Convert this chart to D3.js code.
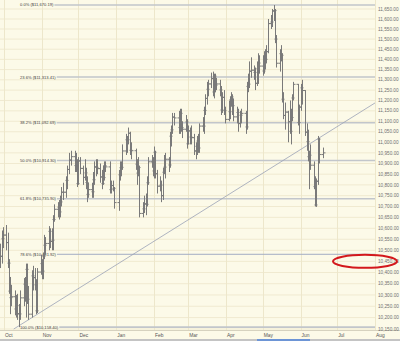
<!DOCTYPE html>
<html>
<head>
<meta charset="utf-8">
<script src="https://cdn.jsdelivr.net/npm/d3@7"></script>
<style>
  html, body { margin: 0; padding: 0; background: #fcf9e6; }
  svg { display: block; font-family: "Liberation Sans", Arial, sans-serif; }
</style>
</head>
<body>
<div id="chart"></div>
<script>
// ---- chart data ----
const monthStarts = ['2005-10-01', '2005-11-01', '2005-12-01', '2006-01-01', '2006-02-01', '2006-03-01',
  '2006-04-01', '2006-05-01', '2006-06-01', '2006-07-01', '2006-08-01'];
const monthLabels = ['Oct', 'Nov', 'Dec', 'Jan', 'Feb', 'Mar', 'Apr', 'May', 'Jun', 'Jul', 'Aug'];

const priceTicks = [10150, 10200, 10250, 10300, 10350, 10400, 10450, 10500, 10550, 10600, 10650,
  10700, 10750, 10800, 10850, 10900, 10950, 11000, 11050, 11100, 11150, 11200, 11250, 11300,
  11350, 11400, 11450, 11500, 11550, 11600, 11650];

const fibLabels = ['0.0%', '23.6%', '38.2%', '50.0%', '61.8%', '78.6%', '100.0%'];
const fibValues = [11670.19, 11313.41, 11092.69, 10914.30, 10735.90, 10481.92, 10158.40];

const trendDates = ['2005-10-09', '2006-08-01'];
const trendValues = [10150, 11188];

const markedLevel = 10450;

// daily bars per month: [day, open, high, low, close]
const sep05 = [[28, 10455, 10530, 10420, 10473], [29, 10473, 10590, 10440, 10552], [30, 10552, 10605, 10510, 10569]];
const oct05 = [
  [3, 10569, 10615, 10500, 10535], [4, 10535, 10580, 10420, 10442], [5, 10442, 10460, 10305, 10317],
  [6, 10317, 10380, 10215, 10288], [7, 10288, 10345, 10250, 10292], [10, 10292, 10320, 10210, 10238],
  [11, 10238, 10300, 10200, 10253], [12, 10253, 10305, 10190, 10217], [13, 10217, 10260, 10158, 10216],
  [14, 10216, 10320, 10190, 10287], [17, 10287, 10375, 10250, 10348], [18, 10348, 10380, 10270, 10285],
  [19, 10285, 10440, 10200, 10414], [20, 10414, 10440, 10260, 10281], [21, 10281, 10340, 10190, 10215],
  [24, 10215, 10410, 10200, 10385], [25, 10385, 10430, 10320, 10377], [26, 10377, 10420, 10320, 10345],
  [27, 10345, 10370, 10215, 10230], [28, 10230, 10420, 10220, 10402], [31, 10402, 10480, 10390, 10440]];
const nov05 = [
  [1, 10440, 10460, 10370, 10406], [2, 10406, 10490, 10370, 10473], [3, 10473, 10570, 10460, 10523],
  [4, 10523, 10560, 10480, 10531], [7, 10531, 10610, 10500, 10586], [8, 10586, 10600, 10510, 10540],
  [9, 10540, 10600, 10500, 10546], [10, 10546, 10660, 10500, 10640], [11, 10640, 10710, 10630, 10687],
  [14, 10687, 10720, 10650, 10697], [15, 10697, 10730, 10640, 10675], [16, 10675, 10750, 10650, 10721],
  [17, 10721, 10790, 10700, 10766], [18, 10766, 10810, 10730, 10766], [21, 10766, 10840, 10740, 10821],
  [22, 10821, 10890, 10780, 10872], [23, 10872, 10950, 10850, 10916], [25, 10916, 10960, 10890, 10932],
  [28, 10932, 10960, 10860, 10890], [29, 10890, 10950, 10860, 10889], [30, 10889, 10920, 10790, 10806]];
const dec05 = [
  [1, 10806, 10930, 10800, 10912], [2, 10912, 10930, 10850, 10877], [5, 10877, 10890, 10800, 10835],
  [6, 10835, 10920, 10820, 10856], [7, 10856, 10880, 10780, 10811], [8, 10811, 10840, 10720, 10756],
  [9, 10756, 10810, 10740, 10778], [12, 10778, 10810, 10740, 10768], [13, 10768, 10860, 10740, 10824],
  [14, 10824, 10910, 10800, 10884], [15, 10884, 10920, 10840, 10882], [16, 10882, 10920, 10850, 10876],
  [19, 10876, 10900, 10810, 10837], [20, 10837, 10870, 10780, 10806], [21, 10806, 10890, 10800, 10834],
  [22, 10834, 10910, 10820, 10890], [23, 10890, 10910, 10860, 10884], [27, 10884, 10910, 10760, 10778],
  [28, 10778, 10820, 10760, 10797], [29, 10797, 10820, 10770, 10784], [30, 10784, 10790, 10690, 10718]];
const jan06 = [
  [3, 10718, 10870, 10680, 10847], [4, 10847, 10910, 10820, 10880], [5, 10880, 10910, 10840, 10882],
  [6, 10882, 10990, 10870, 10959], [9, 10959, 11040, 10940, 11012], [10, 11012, 11030, 10950, 11012],
  [11, 11012, 11070, 10990, 11043], [12, 11043, 11050, 10940, 10962], [13, 10962, 11000, 10920, 10960],
  [17, 10960, 10970, 10870, 10897], [18, 10897, 10920, 10800, 10855], [19, 10855, 10930, 10840, 10881],
  [20, 10881, 10890, 10650, 10668], [23, 10668, 10720, 10650, 10689], [24, 10689, 10750, 10670, 10712],
  [25, 10712, 10760, 10660, 10710], [26, 10710, 10840, 10700, 10810], [27, 10810, 10930, 10800, 10908],
  [30, 10908, 10940, 10880, 10907], [31, 10907, 10930, 10840, 10865]];
const feb06 = [
  [1, 10865, 10980, 10830, 10953], [2, 10953, 10960, 10830, 10852], [3, 10852, 10870, 10760, 10794],
  [6, 10794, 10840, 10770, 10799], [7, 10799, 10820, 10720, 10750], [8, 10750, 10880, 10730, 10859],
  [9, 10859, 10940, 10850, 10883], [10, 10883, 10950, 10830, 10920], [13, 10920, 10930, 10860, 10893],
  [14, 10893, 11050, 10880, 11029], [15, 11029, 11080, 10980, 11059], [16, 11059, 11140, 11040, 11120],
  [17, 11120, 11140, 11080, 11116], [21, 11116, 11150, 11040, 11070], [22, 11070, 11160, 11040, 11138],
  [23, 11138, 11160, 11050, 11070], [24, 11070, 11100, 11020, 11062], [27, 11062, 11130, 11050, 11097],
  [28, 11097, 11110, 10970, 10993]];
const mar06 = [
  [1, 10993, 11080, 10990, 11054], [2, 11054, 11070, 10990, 11025], [3, 11025, 11080, 10990, 11022],
  [6, 11022, 11040, 10940, 10959], [7, 10959, 11000, 10920, 10981], [8, 10981, 11030, 10940, 11006],
  [9, 11006, 11040, 10950, 10973], [10, 10973, 11090, 10950, 11077], [13, 11077, 11120, 11050, 11077],
  [14, 11077, 11170, 11040, 11152], [15, 11152, 11230, 11130, 11210], [16, 11210, 11290, 11180, 11254],
  [17, 11254, 11300, 11220, 11280], [20, 11280, 11335, 11260, 11306], [21, 11306, 11340, 11220, 11241],
  [22, 11241, 11330, 11210, 11318], [23, 11318, 11330, 11240, 11274], [24, 11274, 11310, 11250, 11280],
  [27, 11280, 11300, 11220, 11251], [28, 11251, 11270, 11130, 11154], [29, 11154, 11240, 11140, 11215],
  [30, 11215, 11250, 11130, 11151], [31, 11151, 11170, 11090, 11109]];
const apr06 = [
  [3, 11109, 11200, 11100, 11146], [4, 11146, 11220, 11110, 11204], [5, 11204, 11240, 11170, 11217],
  [6, 11217, 11230, 11130, 11175], [7, 11175, 11210, 11100, 11121], [10, 11121, 11170, 11090, 11142],
  [11, 11142, 11160, 11050, 11089], [12, 11089, 11150, 11070, 11129], [13, 11129, 11160, 11090, 11138],
  [17, 11138, 11150, 11040, 11073], [18, 11073, 11290, 11060, 11268], [19, 11268, 11330, 11240, 11279],
  [20, 11279, 11390, 11260, 11342], [21, 11342, 11410, 11310, 11347], [24, 11347, 11370, 11300, 11336],
  [25, 11336, 11360, 11250, 11283], [26, 11283, 11390, 11270, 11354], [27, 11354, 11430, 11280, 11382],
  [28, 11382, 11420, 11330, 11367]];
const may06 = [
  [1, 11367, 11420, 11320, 11343], [2, 11343, 11440, 11330, 11416], [3, 11416, 11450, 11350, 11400],
  [4, 11400, 11470, 11380, 11438], [5, 11438, 11600, 11430, 11577], [8, 11577, 11620, 11550, 11585],
  [9, 11585, 11650, 11560, 11640], [10, 11640, 11670, 11590, 11642], [11, 11642, 11650, 11480, 11500],
  [12, 11500, 11520, 11360, 11381], [15, 11381, 11450, 11340, 11428], [16, 11428, 11470, 11390, 11420],
  [17, 11420, 11430, 11190, 11206], [18, 11206, 11240, 11110, 11128], [19, 11128, 11190, 11060, 11144],
  [22, 11144, 11150, 11000, 11098], [23, 11098, 11200, 11040, 11052], [24, 11052, 11160, 10990, 11118],
  [25, 11118, 11230, 11100, 11212], [26, 11212, 11290, 11200, 11278], [30, 11278, 11280, 11080, 11094],
  [31, 11094, 11180, 11040, 11168]];
const jun06 = [
  [1, 11168, 11280, 11150, 11261], [2, 11261, 11300, 11180, 11248], [5, 11248, 11250, 11030, 11048],
  [6, 11048, 11090, 10960, 11003], [7, 11003, 11060, 10910, 10932], [8, 10932, 10960, 10780, 10939],
  [9, 10939, 10990, 10870, 10892], [12, 10892, 10910, 10780, 10792], [13, 10792, 10840, 10700, 10707],
  [14, 10707, 10830, 10698, 10817], [15, 10817, 11030, 10800, 11015], [16, 11015, 11020, 10900, 10942],
  [19, 10942, 10975, 10925, 10950]];

const barMonths = [['2005-09', sep05], ['2005-10', oct05], ['2005-11', nov05], ['2005-12', dec05],
  ['2006-01', jan06], ['2006-02', feb06], ['2006-03', mar06], ['2006-04', apr06], ['2006-05', may06],
  ['2006-06', jun06]];

// ---- set up ----
const width = 400;
const height = 341;
const plotRight = 375;
const plotBottom = 330;
const parseDate = d3.timeParse('%Y-%m-%d');

const bars = [];
barMonths.forEach(([ym, rows]) => {
  rows.forEach(([day, open, high, low, close]) => {
    bars.push({ date: parseDate(`${ym}-${String(day).padStart(2, '0')}`), open, high, low, close });
  });
});

const x = d3.scaleTime()
  .domain([parseDate('2005-10-01'), parseDate('2006-08-01')])
  .range([4, plotRight]);
const y = d3.scaleLog()
  .domain([10150, 11650])
  .range([329, 9]);

const svg = d3.select('#chart')
  .append('svg')
  .attr('width', width)
  .attr('height', height);

svg.append('rect')
  .attr('width', width)
  .attr('height', height)
  .attr('fill', '#fcfae8');

svg.append('clipPath').attr('id', 'plot-clip')
  .append('rect')
  .attr('x', 0).attr('y', 0)
  .attr('width', plotRight).attr('height', plotBottom);

// grid
const grid = svg.append('g');
grid.selectAll('line.h')
  .data(priceTicks)
  .enter().append('line')
  .attr('class', 'h')
  .attr('x1', 0).attr('x2', plotRight)
  .attr('y1', (d) => y(d)).attr('y2', (d) => y(d))
  .attr('stroke', '#f0ead0')
  .attr('stroke-width', 1);
grid.selectAll('line.v')
  .data(monthStarts.map(parseDate))
  .enter().append('line')
  .attr('class', 'v')
  .attr('x1', (d) => Math.round(x(d)) + 0.5).attr('x2', (d) => Math.round(x(d)) + 0.5)
  .attr('y1', 0).attr('y2', plotBottom)
  .attr('stroke', '#ede7cb')
  .attr('stroke-width', 1);

// plot bottom border
svg.append('line')
  .attr('x1', 0).attr('x2', width)
  .attr('y1', plotBottom + 0.5).attr('y2', plotBottom + 0.5)
  .attr('stroke', '#d6d2bf')
  .attr('stroke-width', 1.2);

// right price axis labels
svg.append('g')
  .selectAll('text')
  .data(priceTicks)
  .enter().append('text')
  .attr('x', 378)
  .attr('y', (d) => y(d))
  .attr('dy', '0.35em')
  .attr('font-size', 4.7)
  .attr('fill', '#707070')
  .text(d3.format(',.2f'));

// month labels
svg.append('g')
  .selectAll('text')
  .data(monthStarts)
  .enter().append('text')
  .attr('x', (d) => x(parseDate(d)) + 1)
  .attr('y', 337)
  .attr('font-size', 4.9)
  .attr('fill', '#555')
  .text((d, i) => monthLabels[i]);

// fibonacci levels: label then line to the right edge
const fib = svg.append('g');
fibValues.forEach((v, i) => {
  const label = fib.append('text')
    .attr('x', 20)
    .attr('y', y(v))
    .attr('dy', '0.35em')
    .attr('font-size', 4.1)
    .attr('fill', '#3c3c3c')
    .text(`${fibLabels[i]} ($${d3.format(',.2f')(v)})`);
  const end = 20 + label.node().getComputedTextLength() + 1;
  const thin = fibLabels[i] === '78.6%';
  fib.append('line')
    .attr('x1', end).attr('x2', plotRight)
    .attr('y1', y(v)).attr('y2', y(v))
    .attr('stroke', thin ? '#a3adc4' : '#c2c6cb')
    .attr('stroke-width', thin ? 1 : 1.6);
});

// trend line
const trend = trendDates.map((d, i) => [x(parseDate(d)), y(trendValues[i])]);
svg.append('path')
  .attr('clip-path', 'url(#plot-clip)')
  .attr('d', d3.line()(trend))
  .attr('fill', 'none')
  .attr('stroke', '#9aa2b6')
  .attr('stroke-width', 0.8);

// OHLC bars
const ohlc = svg.append('g')
  .attr('clip-path', 'url(#plot-clip)')
  .attr('stroke', '#7a7a7a')
  .attr('stroke-width', 1)
  .selectAll('g')
  .data(bars)
  .enter().append('g')
  .attr('transform', (d) => `translate(${Math.round(x(d.date)) + 0.5},0)`);
ohlc.append('line')
  .attr('y1', (d) => y(d.high)).attr('y2', (d) => y(d.low));
ohlc.append('line')
  .attr('x1', -2).attr('x2', 0)
  .attr('y1', (d) => y(d.open)).attr('y2', (d) => y(d.open));
ohlc.append('line')
  .attr('x1', 0).attr('x2', 2)
  .attr('y1', (d) => y(d.close)).attr('y2', (d) => y(d.close));

// red marker round the price level on the axis
svg.append('ellipse')
  .attr('cx', 365)
  .attr('cy', y(markedLevel))
  .attr('rx', 32)
  .attr('ry', 6.5)
  .attr('fill', 'none')
  .attr('stroke', '#d3181c')
  .attr('stroke-width', 2);

// bottom strip (scroll bar)
svg.append('rect')
  .attr('x', 0).attr('y', 339)
  .attr('width', width).attr('height', 2)
  .attr('fill', '#c4c4c4');
svg.append('rect')
  .attr('x', 257).attr('y', 339)
  .attr('width', 53).attr('height', 2)
  .attr('fill', '#6d95d6');
</script>
</body>
</html>
